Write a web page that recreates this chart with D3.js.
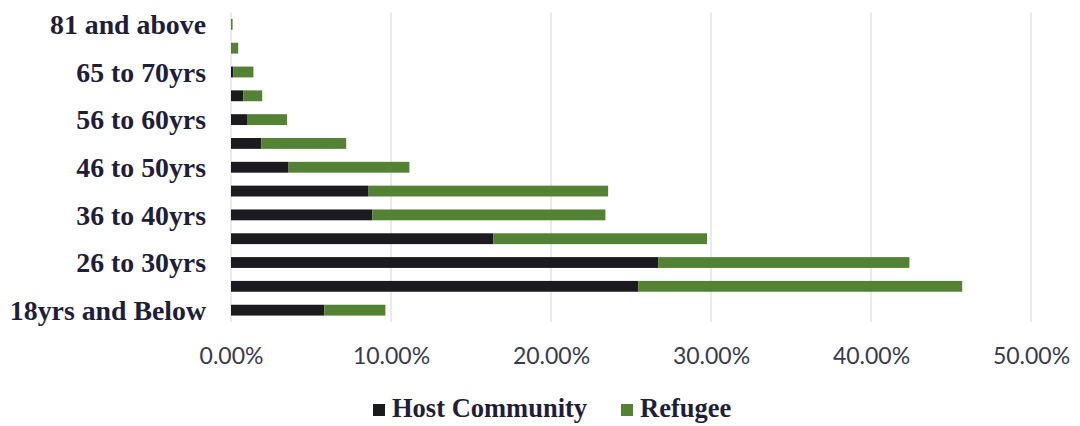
<!DOCTYPE html>
<html>
<head>
<meta charset="utf-8">
<script src="https://cdn.jsdelivr.net/npm/d3@7"></script>
<style>
  html, body { margin: 0; padding: 0; background: #ffffff; }
  svg { display: block; }
</style>
</head>
<body>
<svg id="chart" width="1080" height="426"></svg>
<script>
// Age groups, youngest first (drawn bottom to top)
const ageGroups = [
  "18yrs and Below", "19 to 25yrs", "26 to 30yrs", "31 to 35yrs",
  "36 to 40yrs", "41 to 45yrs", "46 to 50yrs", "51 to 55yrs",
  "56 to 60yrs", "61 to 64yrs", "65 to 70yrs", "71 to 80yrs", "81 and above"
];
// Share of respondents in each age group (%)
const hostCommunity = [5.83, 25.45, 26.7, 16.4, 8.84, 8.6, 3.6, 1.9, 1.0, 0.77, 0.15, 0.0, 0.0];
const refugee       = [3.82, 20.25, 15.7, 13.35, 14.56, 14.97, 7.55, 5.3, 2.5, 1.18, 1.25, 0.45, 0.1];
const seriesNames   = ["Host Community", "Refugee"];
const seriesColors  = ["#1b1b1f", "#548235"];
const xTicks        = [0, 10, 20, 30, 40, 50];

const rows = ageGroups.map((g, i) => ({
  group: g,
  "Host Community": hostCommunity[i],
  "Refugee": refugee[i]
}));

const svg = d3.select("#chart");
const plot = { left: 231, right: 1031, top: 12.5, bottom: 322 };

const x = d3.scaleLinear().domain([0, 50]).range([plot.left, plot.right]);
const y = d3.scaleBand()
  .domain(ageGroups.slice().reverse())
  .range([plot.top, plot.bottom])
  .paddingInner(0.545)
  .paddingOuter(0.27);

// Vertical gridlines
svg.append("g")
  .selectAll("line")
  .data(xTicks)
  .join("line")
  .attr("x1", d => x(d)).attr("x2", d => x(d))
  .attr("y1", plot.top).attr("y2", plot.bottom)
  .attr("stroke", "#dcdcdc")
  .attr("stroke-width", 1.2);

// Stacked bars
const stack = d3.stack().keys(seriesNames);
const layers = stack(rows);

svg.append("g")
  .selectAll("g")
  .data(layers)
  .join("g")
  .attr("fill", (d, i) => seriesColors[i])
  .selectAll("rect")
  .data(d => d)
  .join("rect")
  .attr("x", d => x(d[0]))
  .attr("y", d => y(d.data.group))
  .attr("width", d => Math.max(0, x(d[1]) - x(d[0])))
  .attr("height", y.bandwidth());

// Category labels (every other group)
svg.append("g")
  .selectAll("text")
  .data(ageGroups.filter((g, i) => i % 2 === 0))
  .join("text")
  .attr("x", 206)
  .attr("y", d => y(d) + y.bandwidth() / 2)
  .attr("dy", "0.35em")
  .attr("text-anchor", "end")
  .attr("font-family", "'Liberation Serif', serif")
  .attr("font-weight", "bold")
  .attr("font-size", 27.8)
  .attr("fill", "#1e1e3a")
  .text(d => d);

// Bottom axis tick labels
const xAxis = d3.axisBottom(x)
  .tickValues(xTicks)
  .tickSize(0)
  .tickPadding(0)
  .tickFormat(d => d.toFixed(2) + "%");

const axisG = svg.append("g")
  .attr("transform", `translate(0, 347)`)
  .call(xAxis);
axisG.select(".domain").remove();
axisG.selectAll("text")
  .attr("font-family", "Lato, sans-serif")
  .attr("font-size", 23)
  .attr("fill", "#383a52")
  .attr("dy", "0.74em");

// Legend
const legendItems = [
  { name: seriesNames[0], color: seriesColors[0], x: 373 },
  { name: seriesNames[1], color: seriesColors[1], x: 621 }
];
const legend = svg.append("g");
const li = legend.selectAll("g")
  .data(legendItems)
  .join("g")
  .attr("transform", d => `translate(${d.x}, 0)`);
li.append("rect")
  .attr("x", 0).attr("y", 404)
  .attr("width", 12).attr("height", 12)
  .attr("fill", d => d.color);
li.append("text")
  .attr("x", 19).attr("y", 417)
  .attr("font-family", "'Liberation Serif', serif")
  .attr("font-weight", "bold")
  .attr("font-size", 26.5)
  .attr("fill", "#1e1e3a")
  .text(d => d.name);
</script>
</body>
</html>
